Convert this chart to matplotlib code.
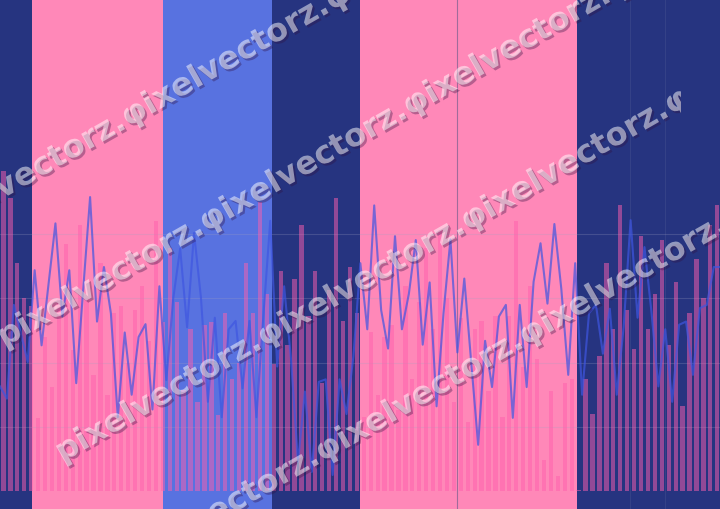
import matplotlib
matplotlib.use("Agg")
import matplotlib.pyplot as plt
import matplotlib.patheffects as pe
from matplotlib.transforms import Bbox

# bar heights (0 at the bar baseline, gridlines at 10/20/30/40)
bar_values = [49.9, 45.6, 35.5, 30.0, 28.9, 11.4, 24.0, 16.2, 30.0, 38.5,
              22.0, 41.4, 30.0, 18.1, 35.5, 15.0, 27.7, 28.8, 20.0, 28.2,
              32.0, 23.4, 42.1, 26.4, 37.9, 29.5, 15.7, 25.2, 13.8, 25.9,
              26.4, 11.9, 27.7, 17.4, 20.0, 35.5, 27.7, 45.1, 30.7, 19.8,
              34.3, 22.8, 33.0, 41.4, 27.2, 34.3, 16.9, 31.3, 45.7, 26.5,
              34.9, 27.7, 11.5, 24.7, 15.0, 24.0, 25.9, 12.7, 31.9, 17.4,
              29.5, 37.8, 25.2, 40.7, 30.1, 13.8, 27.0, 10.8, 25.2, 26.5,
              15.6, 27.2, 11.5, 27.2, 42.1, 19.4, 31.9, 20.5, 4.8, 15.6,
              2.3, 16.9, 17.5, 0.2, 17.4, 12.0, 21.0, 35.5, 25.2, 44.5,
              28.2, 22.2, 39.7, 25.2, 30.7, 39.1, 22.8, 32.5, 13.2, 27.7,
              36.1, 30.1, 41.4, 44.5]

# line points sit half way between bars
line_values = [16.3, 14.4, 29.0, 24.6, 20.1, 34.4, 22.7, 32.2, 41.7, 27.2,
               34.4, 16.8, 31.3, 45.8, 26.4, 34.9, 27.7, 11.5, 24.7, 15.0,
               24.0, 26.0, 12.7, 31.9, 17.3, 30.0, 37.8, 25.5, 40.2, 30.1,
               13.9, 27.0, 11.5, 25.2, 26.5, 16.0, 26.5, 11.5, 27.2, 42.1,
               19.4, 31.9, 20.5, 4.5, 15.5, 3.0, 17.0, 17.4, 2.5, 17.4,
               12.0, 21.0, 35.5, 25.2, 44.5, 28.2, 22.2, 39.7, 25.2, 30.7,
               39.1, 22.8, 32.5, 13.2, 27.7, 39.2, 21.6, 33.1, 20.0, 7.2,
               23.4, 16.2, 27.2, 29.0, 11.4, 29.0, 16.2, 32.6, 38.6, 29.2,
               41.6, 31.5, 18.1, 35.5, 15.0, 27.7, 29.0, 21.4, 28.4, 15.0,
               25.6, 42.2, 27.0, 38.0, 28.0, 16.3, 25.2, 13.9, 25.9, 26.4,
               18.1, 28.5, 29.0, 34.9, 34.9]

# background bands in bar-index units
band_edges = [-0.5, 4.13, 23.03, 38.76, 51.46, 82.77, 103.4]
band_colors = ["#263480", "#ff88b8", "#5872e0", "#263480", "#ff88b8", "#263480"]

watermark_rows = ["pixelvectorz.φixelvectorz.φixelvectorz.φixelvectorz.",
                  "pixelvectorz.φixelvectorz.φixelvectorz.φixelvectorz.",
                  "pixelvectorz.φixelvectorz.φixelvectorz.φ",
                  "pixelvectorz.φixelvectorz.φixelvectorz.φixelvectorz."]

bar_x = list(range(len(bar_values)))
line_x = [i - 0.5 for i in range(len(line_values))]

fig = plt.figure(figsize=(7.2, 5.09), dpi=100)
ax = fig.add_axes([0, 0, 1, 1])

for i in range(len(band_colors)):
    ax.axvspan(band_edges[i], band_edges[i + 1], color=band_colors[i], lw=0, zorder=0)

for y in [10, 20, 30, 40]:
    ax.axhline(y, color="#a0a0c0", alpha=0.25, lw=0.8, zorder=1)
ax.axvline(65.45, color="#7a6090", alpha=0.7, lw=0.8, zorder=1)
for x in [90.4, 95.4]:
    ax.axvline(x, color="#a0a0c0", alpha=0.12, lw=0.8, zorder=1)

ax.bar(bar_x, bar_values, width=0.62, color="#ff5fae", alpha=0.5, zorder=2)
ax.plot(line_x, line_values, color="#3f56e0", alpha=0.7, lw=1.5, zorder=3)

ax.set_xlim(-0.5, 103.4)
ax.set_ylim(-2.8, 76.5)
ax.axis("off")

# diagonal watermark rows, start points in pixels from top-left
starts = [(-78, 235), (0, 340), (58, 455), (116, 570)]
for k, ((sx, sy), txt) in enumerate(zip(starts, watermark_rows)):
    t = fig.text(sx / 720, 1 - sy / 509, txt, rotation=29.7, rotation_mode="anchor",
                 ha="left", va="center", fontsize=23, fontweight="bold",
                 color="white", alpha=0.5, zorder=5,
                 path_effects=[pe.withSimplePatchShadow(offset=(1.5, -1.5),
                                                        shadow_rgbFace="#301040", alpha=0.35)])
    if k == 2:
        # the third row is cut off part way through its last letter
        t.set_clip_box(Bbox([[0, 0], [681, 509]]))
        t.set_clip_on(True)

fig.savefig("out.png", dpi=100)
